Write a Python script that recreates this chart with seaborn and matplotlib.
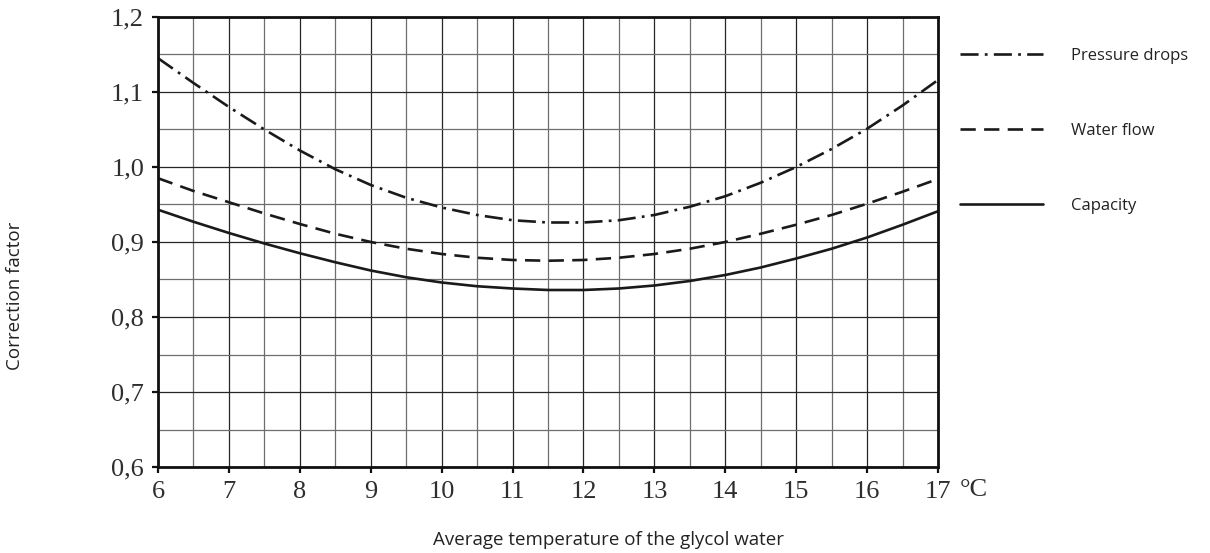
import matplotlib
matplotlib.use("Agg")
import matplotlib.pyplot as plt
from matplotlib.ticker import FixedLocator, MultipleLocator, FuncFormatter
import pandas as pd
import seaborn as sns

# Correction factors vs. average glycol water temperature (°C)
temperature = [6.0, 6.5, 7.0, 7.5, 8.0, 8.5, 9.0, 9.5, 10.0, 10.5, 11.0, 11.5,
               12.0, 12.5, 13.0, 13.5, 14.0, 14.5, 15.0, 15.5, 16.0, 16.5, 17.0]
pressure_drops = [1.145, 1.112, 1.080, 1.050, 1.022, 0.997, 0.976, 0.959, 0.946,
                  0.936, 0.929, 0.926, 0.926, 0.929, 0.936, 0.947, 0.961, 0.979,
                  1.000, 1.024, 1.051, 1.082, 1.116]
water_flow = [0.985, 0.968, 0.953, 0.938, 0.924, 0.911, 0.900, 0.891, 0.884,
              0.879, 0.876, 0.875, 0.876, 0.879, 0.884, 0.891, 0.900, 0.911,
              0.923, 0.936, 0.951, 0.967, 0.984]
capacity = [0.943, 0.927, 0.912, 0.898, 0.885, 0.873, 0.862, 0.853, 0.846,
            0.841, 0.838, 0.836, 0.836, 0.838, 0.842, 0.848, 0.856, 0.866,
            0.878, 0.891, 0.906, 0.923, 0.941]

series_names = ["Pressure drops", "Water flow", "Capacity"]
x_ticks = list(range(6, 18))
y_ticks = [0.6, 0.7, 0.8, 0.9, 1.0, 1.1, 1.2]

df = pd.DataFrame({
    "t": temperature * 3,
    "factor": pressure_drops + water_flow + capacity,
    "series": [s for s in series_names for _ in temperature],
})

sns.set_theme(style="white")
plt.rcParams["lines.scale_dashes"] = False
plt.rcParams["font.family"] = ["Open Sans", "DejaVu Sans"]

fig = plt.figure(figsize=(12.10, 5.53), dpi=100)
ax = fig.add_axes([0.1306, 0.1555, 0.6446, 0.8138])

sns.lineplot(
    data=df, x="t", y="factor", hue="series", style="series",
    hue_order=series_names, style_order=series_names,
    palette=["#1a1a1a"] * 3,
    dashes={"Pressure drops": (13, 4.5, 2, 4.5),
            "Water flow": (11, 6),
            "Capacity": ""},
    linewidth=1.9, ax=ax,
)

ax.set_xlim(6, 17)
ax.set_ylim(0.6, 1.2)
ax.xaxis.set_major_locator(FixedLocator(x_ticks))
ax.xaxis.set_minor_locator(MultipleLocator(0.5))
ax.yaxis.set_major_locator(FixedLocator(y_ticks))
ax.yaxis.set_minor_locator(MultipleLocator(0.05))
ax.yaxis.set_major_formatter(FuncFormatter(lambda v, p: f"{v:.1f}".replace(".", ",")))
ax.xaxis.set_major_formatter(FuncFormatter(lambda v, p: f"{int(round(v))}"))

ax.grid(True, which="major", color="#262626", linewidth=0.9)
ax.grid(True, which="minor", color="#6e6e6e", linewidth=0.9)
ax.set_axisbelow(True)

for side in ax.spines.values():
    side.set_visible(True)
    side.set_color("#111111")
    side.set_linewidth(2.0)

ax.tick_params(which="major", direction="out", length=4, width=1.6,
               color="#111111", bottom=True, left=True, pad=6,
               labelsize=19, labelcolor="#2e2e2e",
               labelfontfamily="Liberation Serif")
ax.tick_params(which="minor", length=0)

ax.annotate("°C", xy=(1, 0), xycoords="axes fraction", xytext=(16, -8.5),
            textcoords="offset points", ha="left", va="top",
            fontsize=19, family="Liberation Serif", color="#2e2e2e")

ax.set_xlabel("Average temperature of the glycol water", fontsize=13.5, color="#222222")
ax.set_ylabel("Correction factor", fontsize=13.5, color="#222222")
ax.xaxis.set_label_coords(0.578, -0.143)
ax.yaxis.set_label_coords(-0.172, 0.38)

sns.move_legend(
    ax, "upper left", bbox_to_anchor=(1.028, 0.932), frameon=False, title=None,
    fontsize=12, handlelength=5.0, handletextpad=1.7, labelspacing=3.55,
    borderpad=0, borderaxespad=0,
)
for txt in ax.get_legend().get_texts():
    txt.set_color("#222222")

fig.savefig("out.png", dpi=100)
